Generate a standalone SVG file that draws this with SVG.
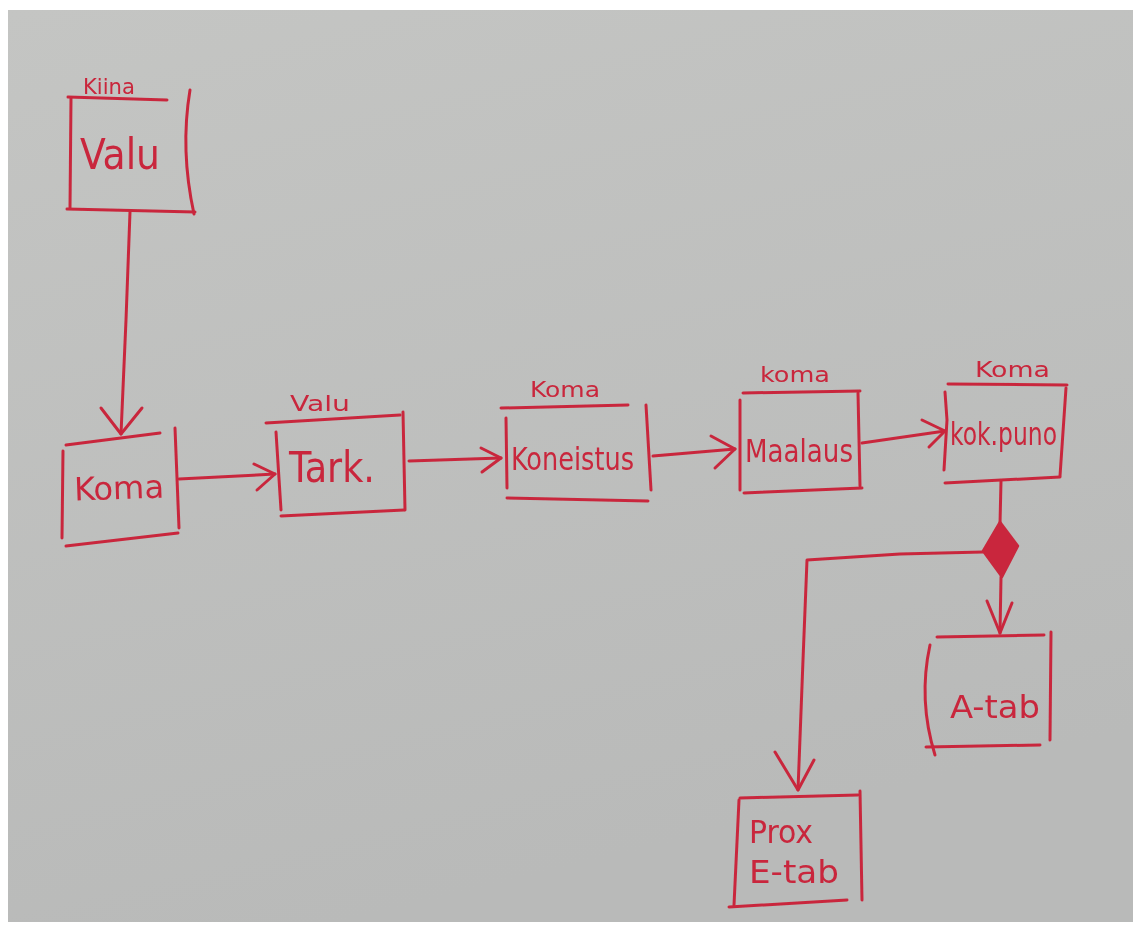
<svg xmlns="http://www.w3.org/2000/svg" width="1133" height="929" viewBox="0 0 1133 929">
  <defs>
    <linearGradient id="paper" x1="0" y1="0" x2="0.3" y2="1">
      <stop offset="0" stop-color="#c4c5c3"/>
      <stop offset="1" stop-color="#b9bab9"/>
    </linearGradient>
    <filter id="soft" x="-5%" y="-5%" width="110%" height="110%">
      <feGaussianBlur stdDeviation="0.6"/>
    </filter>
  </defs>
  <style>
    .ink { fill: none; stroke: #c9283c; stroke-width: 3; stroke-linecap: round; stroke-linejoin: round; }
    .fillink { fill: #c9283c; stroke: #c9283c; stroke-width: 2.5; stroke-linejoin: round; }
    .lbl { fill: #c9283c; font-family: "DejaVu Sans Condensed", "DejaVu Sans", "Liberation Sans", sans-serif; }
    .big { font-size: 42px; }
    .mid { font-size: 32px; }
    .small { font-size: 22px; }
  </style>

  <!-- sheet of paper with white margins -->
  <rect x="0" y="0" width="1133" height="929" fill="#ffffff"/>
  <rect x="8" y="10" width="1125" height="912" fill="url(#paper)"/>

  <g filter="url(#soft)">
    <!-- Connectors -->
    <g id="connectors">
      <!-- Valu -> Koma -->
      <path class="ink" d="M130 212 L126 320 L121 434"/>
      <path class="ink" d="M101 408 L121 434 L142 408"/>
      <!-- Koma -> Tark. -->
      <path class="ink" d="M179 479 L275 474"/>
      <path class="ink" d="M254 464 L275 474 L257 490"/>
      <!-- Tark. -> Koneistus -->
      <path class="ink" d="M409 461 L501 458"/>
      <path class="ink" d="M481 448 L501 458 L482 472"/>
      <!-- Koneistus -> Maalaus -->
      <path class="ink" d="M653 456 L735 449"/>
      <path class="ink" d="M711 436 L735 449 L715 468"/>
      <!-- Maalaus -> kok.puno -->
      <path class="ink" d="M862 443 L945 431"/>
      <path class="ink" d="M922 420 L945 431 L929 447"/>
      <!-- kok.puno -> branch diamond -->
      <path class="ink" d="M1001 481 L1000 524"/>
      <path class="fillink" d="M1000 522 L1018 546 L1002 577 L983 551 Z"/>
      <!-- diamond -> A-tab -->
      <path class="ink" d="M1001 577 L1000 633"/>
      <path class="ink" d="M987 601 L1000 633 L1012 603"/>
      <!-- diamond -> Prox E-tab -->
      <path class="ink" d="M983 552 L900 554 L807 560 L803 660 L798 790"/>
      <path class="ink" d="M775 752 L798 790 L814 760"/>
    </g>

    <!-- Nodes -->
    <g id="node-valu">
      <path class="ink" d="M68 97 L167 100"/>
      <path class="ink" d="M71 98 L70 208"/>
      <path class="ink" d="M190 90 Q180 150 194 214"/>
      <path class="ink" d="M67 209 L195 212"/>
      <text class="lbl small" x="83" y="94" textLength="52" lengthAdjust="spacingAndGlyphs">Kiina</text>
      <text class="lbl big" x="80" y="169" textLength="80" lengthAdjust="spacingAndGlyphs">Valu</text>
    </g>

    <g id="node-koma">
      <path class="ink" d="M66 445 L160 433"/>
      <path class="ink" d="M63 451 L62 538"/>
      <path class="ink" d="M175 428 L179 528"/>
      <path class="ink" d="M66 546 L178 533"/>
      <text class="lbl mid" x="74" y="499" textLength="90" lengthAdjust="spacingAndGlyphs" transform="rotate(-2 120 488)">Koma</text>
    </g>

    <g id="node-tark">
      <path class="ink" d="M266 423 L400 415"/>
      <path class="ink" d="M276 432 L281 510"/>
      <path class="ink" d="M403 412 L405 510"/>
      <path class="ink" d="M281 516 L404 510"/>
      <text class="lbl small" x="290" y="411" textLength="60" lengthAdjust="spacingAndGlyphs">Valu</text>
      <text class="lbl big" x="289" y="482" textLength="86" lengthAdjust="spacingAndGlyphs">Tark.</text>
    </g>

    <g id="node-koneistus">
      <path class="ink" d="M501 408 L628 405"/>
      <path class="ink" d="M506 418 L507 488"/>
      <path class="ink" d="M646 405 L651 490"/>
      <path class="ink" d="M507 498 L648 501"/>
      <text class="lbl small" x="530" y="397" textLength="70" lengthAdjust="spacingAndGlyphs">Koma</text>
      <text class="lbl mid" x="511" y="470" textLength="123" lengthAdjust="spacingAndGlyphs">Koneistus</text>
    </g>

    <g id="node-maalaus">
      <path class="ink" d="M743 393 L860 391"/>
      <path class="ink" d="M740 400 L740 490"/>
      <path class="ink" d="M858 393 L860 486"/>
      <path class="ink" d="M744 493 L862 488"/>
      <text class="lbl small" x="760" y="382" textLength="70" lengthAdjust="spacingAndGlyphs">koma</text>
      <text class="lbl mid" x="745" y="462" textLength="108" lengthAdjust="spacingAndGlyphs">Maalaus</text>
    </g>

    <g id="node-kokpuno">
      <path class="ink" d="M948 384 L1067 385"/>
      <path class="ink" d="M945 392 L947 420 L944 470"/>
      <path class="ink" d="M1066 388 L1060 476"/>
      <path class="ink" d="M945 483 L1060 477"/>
      <text class="lbl small" x="975" y="377" textLength="75" lengthAdjust="spacingAndGlyphs">Koma</text>
      <text class="lbl mid" x="950" y="445" textLength="107" lengthAdjust="spacingAndGlyphs">kok.puno</text>
    </g>

    <g id="node-atab">
      <path class="ink" d="M937 637 L1044 635"/>
      <path class="ink" d="M930 645 Q918 700 935 755"/>
      <path class="ink" d="M1051 632 L1050 740"/>
      <path class="ink" d="M926 747 L1040 745"/>
      <text class="lbl mid" x="950" y="718" textLength="90" lengthAdjust="spacingAndGlyphs">A-tab</text>
    </g>

    <g id="node-etab">
      <path class="ink" d="M740 798 L858 795"/>
      <path class="ink" d="M739 800 L734 905"/>
      <path class="ink" d="M860 791 L862 900"/>
      <path class="ink" d="M729 907 L847 900"/>
      <text class="lbl mid" x="749" y="843" textLength="64" lengthAdjust="spacingAndGlyphs">Prox</text>
      <text class="lbl mid" x="749" y="883" textLength="90" lengthAdjust="spacingAndGlyphs">E-tab</text>
    </g>
  </g>
</svg>
